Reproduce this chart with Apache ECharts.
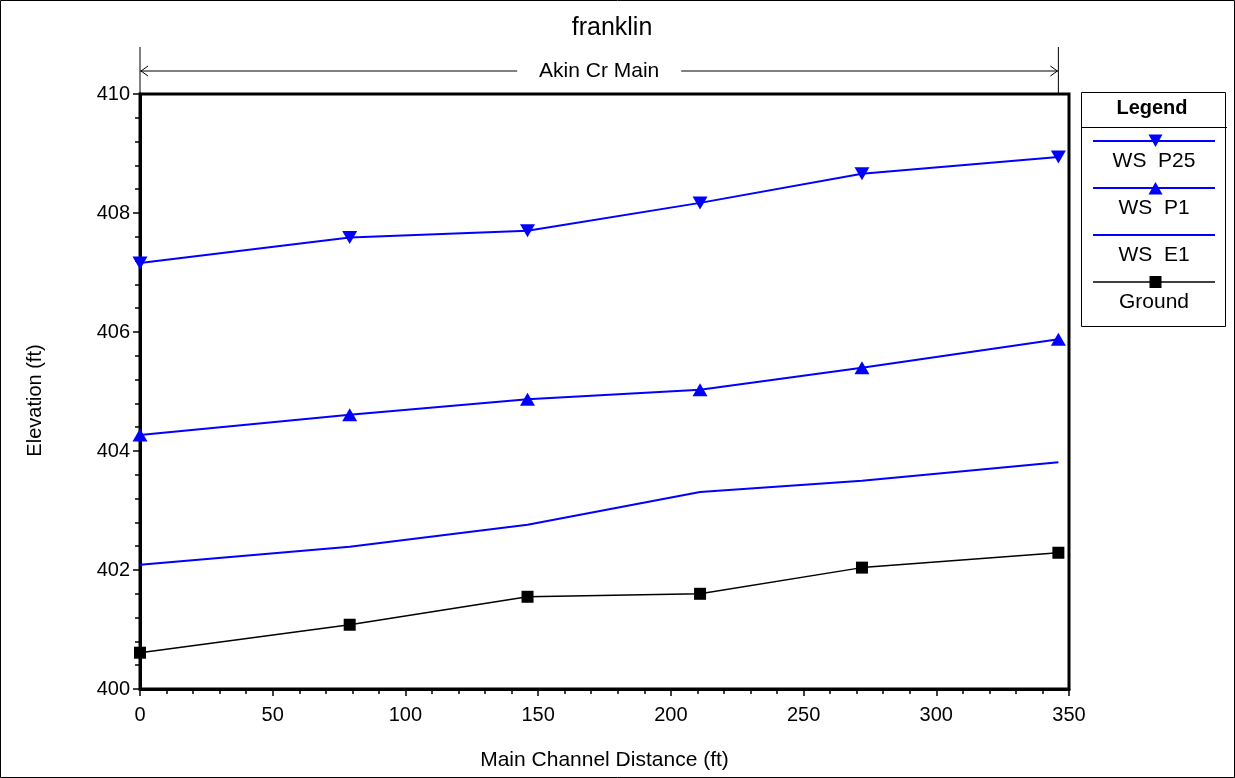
<!DOCTYPE html>
<html>
<head>
<meta charset="utf-8">
<script src="https://cdn.jsdelivr.net/npm/echarts@6/dist/echarts.min.js"></script>
<style>
html,body{margin:0;padding:0;background:#fff;}
#chart{width:1235px;height:778px;}
</style>
</head>
<body>
<div id="chart"></div>
<script>
// ---- data ----
const stations = [0, 79, 146, 211, 272, 346];
const wsP25 = [407.16, 407.59, 407.70, 408.17, 408.66, 408.94];
const wsP1 = [404.27, 404.61, 404.87, 405.03, 405.40, 405.88];
const wsE1 = [402.09, 402.39, 402.76, 403.31, 403.50, 403.81];
const ground = [400.61, 401.08, 401.55, 401.60, 402.04, 402.29];
const seriesNames = ['WS  P25', 'WS  P1', 'WS  E1', 'Ground'];
const titleText = 'franklin';
const reachName = 'Akin Cr Main';
const reachStart = 0, reachEnd = 346;

const FONT = '"Liberation Sans", Arial, sans-serif';
const pair = (ys) => stations.map((x, i) => [x, ys[i]]);

const chart = echarts.init(document.getElementById('chart'), null, {renderer: 'canvas'});

const option = {
  animation: false,
  backgroundColor: '#fff',
  textStyle: {fontFamily: FONT},
  grid: {left: 140, top: 94, right: 166, bottom: 89, show: true, borderColor: '#000', borderWidth: 3, backgroundColor: '#fff'},
  xAxis: {
    type: 'value', min: 0, max: 350, interval: 50,
    name: 'Main Channel Distance (ft)', nameLocation: 'middle', nameGap: 61,
    nameTextStyle: {fontFamily: FONT, fontSize: 21, color: '#000'},
    axisLine: {show: true, onZero: false, lineStyle: {color: '#000', width: 3}},
    axisTick: {show: true, inside: false, length: 7, lineStyle: {color: '#000', width: 1.5}},
    minorTick: {show: true, splitNumber: 5, length: 5, lineStyle: {color: '#000', width: 1.5}},
    axisLabel: {fontFamily: FONT, fontSize: 20, color: '#000', margin: 16},
    splitLine: {show: false}
  },
  yAxis: {
    type: 'value', min: 400, max: 410, interval: 2,
    name: 'Elevation (ft)', nameLocation: 'middle', nameGap: 95,
    nameTextStyle: {fontFamily: FONT, fontSize: 20, color: '#000', padding: [0, 18, 0, 0]},
    axisLine: {show: true, onZero: false, lineStyle: {color: '#000', width: 3}},
    axisTick: {show: true, inside: false, length: 7, lineStyle: {color: '#000', width: 1.5}},
    minorTick: {show: true, splitNumber: 5, length: 5, lineStyle: {color: '#000', width: 1.5}},
    axisLabel: {fontFamily: FONT, fontSize: 20, color: '#000', margin: 10},
    splitLine: {show: false}
  },
  series: [
    {name: seriesNames[0], type: 'line', data: pair(wsP25), symbol: 'triangle', symbolRotate: 180, symbolSize: [15, 13],
      lineStyle: {color: '#0000ff', width: 2}, itemStyle: {color: '#0000ff'}, z: 4},
    {name: seriesNames[1], type: 'line', data: pair(wsP1), symbol: 'triangle', symbolSize: [15, 13],
      lineStyle: {color: '#0000ff', width: 2}, itemStyle: {color: '#0000ff'}, z: 4},
    {name: seriesNames[2], type: 'line', data: pair(wsE1), symbol: 'none', showSymbol: false,
      lineStyle: {color: '#0000ff', width: 2}, itemStyle: {color: '#0000ff'}, z: 4},
    {name: seriesNames[3], type: 'line', data: pair(ground), symbol: 'rect', symbolSize: 12,
      lineStyle: {color: '#000', width: 1.5}, itemStyle: {color: '#000'}, z: 4}
  ]
};
chart.setOption(option);

// Title, reach banner & legend drawn with graphics, positioned via the chart's own scales
function drawExtras() {
  const xs = chart.convertToPixel({xAxisIndex: 0}, reachStart);
  const xe = chart.convertToPixel({xAxisIndex: 0}, reachEnd);
  const yTop = chart.convertToPixel({yAxisIndex: 0}, 410);
  const yArrow = 71, yStart = 47;
  const mid = (xs + xe) / 2;
  const gapHalf = 82;
  const els = [];
  // frame
  els.push({type: 'rect', shape: {x: 0.5, y: 0.5, width: 1234, height: 777}, style: {fill: null, stroke: '#000', lineWidth: 1}, silent: true});
  // title
  els.push({type: 'text', x: 612, y: 28, style: {text: titleText, font: '25px ' + FONT, fill: '#000', align: 'center', verticalAlign: 'middle'}});
  // vertical reach boundary lines
  els.push({type: 'line', shape: {x1: xs, y1: yStart, x2: xs, y2: yTop}, style: {stroke: '#000', lineWidth: 1}});
  els.push({type: 'line', shape: {x1: xe, y1: yStart, x2: xe, y2: yTop}, style: {stroke: '#000', lineWidth: 1}});
  // arrow lines
  els.push({type: 'line', shape: {x1: xs, y1: yArrow, x2: mid - gapHalf, y2: yArrow}, style: {stroke: '#000', lineWidth: 1}});
  els.push({type: 'line', shape: {x1: mid + gapHalf, y1: yArrow, x2: xe, y2: yArrow}, style: {stroke: '#000', lineWidth: 1}});
  els.push({type: 'polyline', shape: {points: [[xs + 8, yArrow - 5], [xs + 1, yArrow], [xs + 8, yArrow + 5]]}, style: {stroke: '#000', lineWidth: 1, fill: null}});
  els.push({type: 'polyline', shape: {points: [[xe - 8, yArrow - 5], [xe - 1, yArrow], [xe - 8, yArrow + 5]]}, style: {stroke: '#000', lineWidth: 1, fill: null}});
  els.push({type: 'text', x: mid, y: yArrow, style: {text: reachName, font: '21px ' + FONT, fill: '#000', align: 'center', verticalAlign: 'middle'}});

  // legend box
  const L = 1081, T = 92, R = 1225, B = 326;
  els.push({type: 'rect', shape: {x: L + 0.5, y: T + 0.5, width: R - L, height: B - T}, style: {fill: '#fff', stroke: '#000', lineWidth: 1}});
  els.push({type: 'line', shape: {x1: L, y1: 127.5, x2: R + 2, y2: 127.5}, style: {stroke: '#000', lineWidth: 1}});
  els.push({type: 'text', x: (L + R) / 2 - 1, y: 108, style: {text: 'Legend', font: 'bold 20px ' + FONT, fill: '#000', align: 'center', verticalAlign: 'middle'}});
  const cx = 1155.5;
  const lineYs = [141, 188, 235, 282];
  const colors = ['#0000ff', '#0000ff', '#0000ff', '#000'];
  lineYs.forEach((ly, i) => {
    els.push({type: 'line', shape: {x1: 1093, y1: ly, x2: 1215, y2: ly}, style: {stroke: colors[i], lineWidth: i === 3 ? 1.5 : 2}});
    els.push({type: 'text', x: 1154, y: ly + 20, style: {text: seriesNames[i], font: '21px ' + FONT, fill: '#000', align: 'center', verticalAlign: 'middle'}});
  });
  // legend symbols
  els.push({type: 'polygon', shape: {points: [[cx - 7, 134.5], [cx + 7, 134.5], [cx, 147]]}, style: {fill: '#0000ff'}});
  els.push({type: 'polygon', shape: {points: [[cx - 7, 194.5], [cx + 7, 194.5], [cx, 182]]}, style: {fill: '#0000ff'}});
  els.push({type: 'rect', shape: {x: cx - 6, y: 282 - 6, width: 12, height: 12}, style: {fill: '#000'}});

  chart.setOption({graphic: els});
}
drawExtras();
</script>
</body>
</html>
